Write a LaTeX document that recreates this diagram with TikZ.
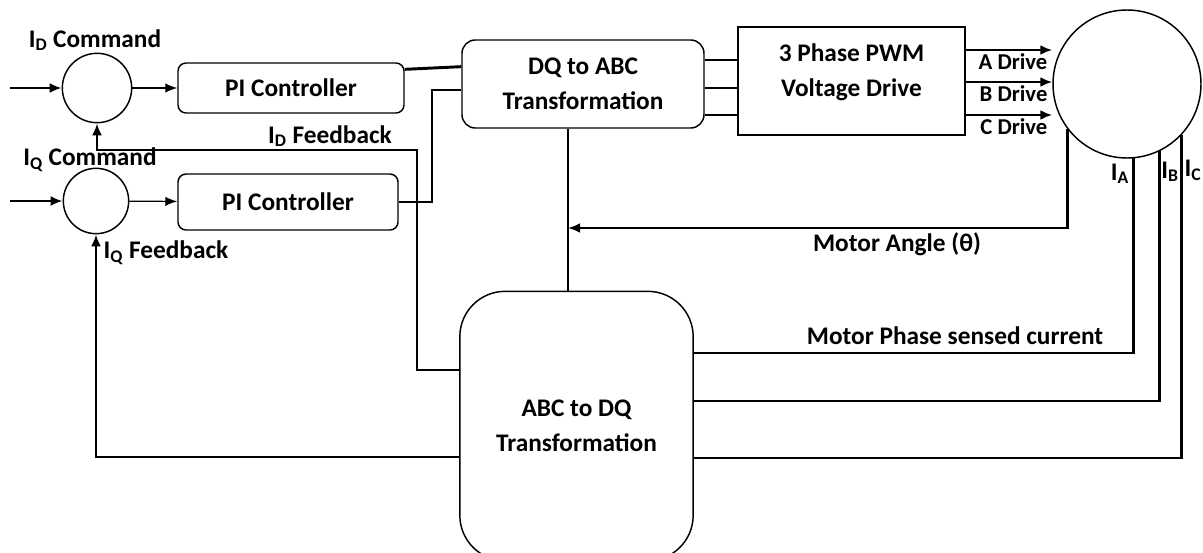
\documentclass[tikz,border=0pt]{standalone}
\usepackage{fontspec}
\setmainfont{Carlito}
\usetikzlibrary{arrows.meta, positioning}
\tikzset{
    block/.style={rectangle, draw=black, rounded corners=6pt, line width=1.1pt, inner sep=0pt,
        align=center, font=\fontsize{19}{26}\selectfont\bfseries},
    sumnode/.style={circle, draw=black, line width=1.1pt, inner sep=0pt},
    lbl/.style={inner sep=1pt, align=center, font=\fontsize{19}{26}\selectfont\bfseries},
    drvlbl/.style={inner sep=1pt, font=\fontsize{17}{20}\selectfont\bfseries},
    wire/.style={line width=2.2pt},
    thinarrow/.style={-{Latex[length=9pt,width=7pt]}, line width=0.9pt},
    arrow/.style={-{Latex[length=9pt,width=7.5pt]}, line width=2.2pt}
}
\newcommand{\cur}[1]{I\textsubscript{#1}}

\begin{document}
\begin{tikzpicture}[x=0.75pt, y=-0.75pt]
    \path[use as bounding box, clip] (0,0) rectangle (1203,553);

    % summing junctions and PI controllers
    \node[sumnode, minimum size=52pt] (sumd) at (97,88) {};
    \node[sumnode, minimum size=49pt] (sumq) at (96,201) {};
    \node[block, minimum width=169.5pt, minimum height=37.5pt] (pid) at (291,88) {PI Controller};
    \node[block, minimum width=165pt, minimum height=42pt] (piq) at (288,202) {PI Controller};

    % transformations, drive and motor
    \node[block, rounded corners=10pt, minimum width=181.5pt, minimum height=66pt] (dqabc) at (583,84) {DQ to ABC\\Transformation};
    \node[block, rounded corners=0pt, minimum width=170pt, minimum height=81pt] (pwm) at (851.5,81) {};
    \node[lbl] (pwmtext) at (851.5,72) {3 Phase PWM\\Voltage Drive};
    \node[sumnode, minimum size=111pt] (motor) at (1127,84) {};
    \node[block, rounded corners=34pt, minimum width=175pt, minimum height=202pt] (abcdq) at (576.5,426) {ABC to DQ\\Transformation};

    % labels
    \node[lbl] (cmdd) at (95,40) {\cur{D} Command};
    \node[lbl] (cmdq) at (90,160) {\cur{Q} Command};
    \node[lbl] (fbkd) at (330,136) {\cur{D} Feedback};
    \node[lbl] (fbkq) at (166,253) {\cur{Q} Feedback};
    \node[lbl] (anglelbl) at (897,244) {Motor Angle (θ)};
    \node[lbl] (senselbl) at (955,336) {Motor Phase sensed current};
    \node[lbl] (ia) at (1120,174) {\cur{A}};
    \node[lbl] (ib) at (1170,172) {\cur{B}};
    \node[lbl] (ic) at (1193,170) {\cur{C}};

    % forward path
    \coordinate (ind) at (10,88);
    \coordinate (inq) at (10,201);
    \draw[arrow] (ind) -- (sumd);
    \draw[arrow] (inq) -- (sumq);
    \draw[thinarrow] (sumd) -- (pid);
    \draw[thinarrow] (sumq) -- (piq);
    \draw[wire] ([yshift=14pt]pid.east) -- ([yshift=13pt]dqabc.west);
    \coordinate (jq) at (432,90);
    \draw[wire] (piq.east) -| (jq) -- (jq -| dqabc.west);
    \foreach \yy in {60,88,115}
        \draw[wire] (dqabc.east |- 0,\yy) -- (pwm.west |- 0,\yy);
    \foreach \yy/\ph in {50/A,82/B,115/C} {
        \draw[arrow] (pwm.east |- 0,\yy) -- (motor.west |- 0,\yy);
        \node[drvlbl, anchor=east] (drive\ph) at (1049,\yy+12) {\ph~Drive};
    }

    % motor angle
    \coordinate (tap) at (568,228);
    \draw[wire] (dqabc.south -| tap) -- (abcdq.north -| tap);
    \draw[arrow] (motor.217) |- (tap);

    % sensed currents
    \foreach \ang/\yy in {-85/353,-64/401,-43/458}
        \draw[wire] (motor.\ang) |- (abcdq.east |- 0,\yy);

    % feedback
    \coordinate (fbd) at (417,150);
    \draw[arrow] (abcdq.west |- 0,370) -| (fbd) -| (sumd.south);
    \draw[arrow] (abcdq.west |- 0,457) -| (sumq.south);

\end{tikzpicture}
\end{document}
